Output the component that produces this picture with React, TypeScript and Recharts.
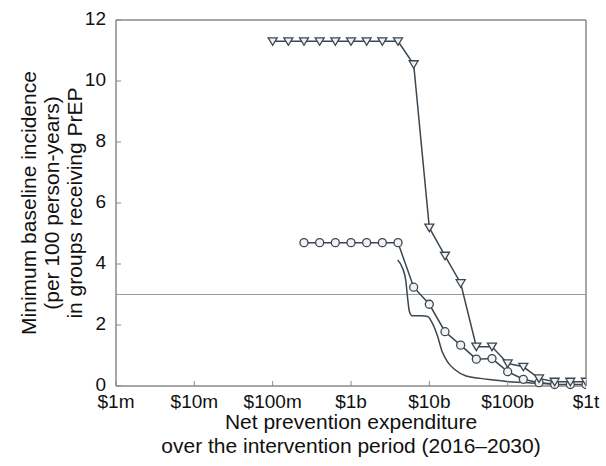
import { LineChart, Line, XAxis, YAxis, ReferenceLine, Label } from "recharts";

// x values are log10 of dollars (6 = $1m ... 12 = $1t)
const TICKS_X = [6, 7, 8, 9, 10, 11, 12];
const TICK_LABELS_X = ["$1m", "$10m", "$100m", "$1b", "$10b", "$100b", "$1t"];
const TICKS_Y = [0, 2, 4, 6, 8, 10, 12];

// triangle series
const triX = [8.0, 8.2, 8.4, 8.6, 8.8, 9.0, 9.2, 9.4, 9.6, 9.8, 10.0, 10.2, 10.4, 10.6, 10.8, 11.0, 11.2, 11.4, 11.6, 11.8, 12.0];
const triY = [11.3, 11.3, 11.3, 11.3, 11.3, 11.3, 11.3, 11.3, 11.3, 10.55, 5.19, 4.27, 3.37, 1.29, 1.29, 0.74, 0.63, 0.25, 0.14, 0.14, 0.14];

// circle series
const circX = [8.4, 8.6, 8.8, 9.0, 9.2, 9.4, 9.6, 9.8, 10.0, 10.2, 10.4, 10.6, 10.8, 11.0, 11.2, 11.4, 11.6, 11.8, 12.0];
const circY = [4.7, 4.7, 4.7, 4.7, 4.7, 4.7, 4.7, 3.24, 2.68, 1.78, 1.34, 0.88, 0.9, 0.47, 0.22, 0.11, 0.05, 0.05, 0.05];

// plain line
const lineX = [9.596, 9.66, 9.7, 9.72, 9.745, 9.78, 9.9, 9.98, 10.03, 10.1, 10.165, 10.23, 10.32, 10.47, 10.65, 10.82, 11.02, 11.3, 11.6];
const lineY = [4.13, 3.85, 3.45, 2.95, 2.45, 2.3, 2.3, 2.28, 2.1, 1.67, 1.12, 0.8, 0.55, 0.33, 0.25, 0.2, 0.14, 0.1, 0.08];

const triData = triX.map((x, i) => ({ x, y: triY[i] }));
const circData = circX.map((x, i) => ({ x, y: circY[i] }));
const lineData = lineX.map((x, i) => ({ x, y: lineY[i] }));

const FONT = "'Liberation Sans', Arial, sans-serif";
const AXIS = "#8a8a8a";
const INK = "#3b4650";
const MARK_FILL = "#f2f2f2";

const BottomTick = (props: any) => {
  const { x, y, payload } = props;
  const i = TICKS_X.indexOf(payload.value);
  return (
    <g>
      <line x1={x} y1={y} x2={x} y2={y - 5} stroke={AXIS} />
      <text x={x} y={y + 22} textAnchor="middle" fontSize={19} fill="#111" fontFamily={FONT}>
        {TICK_LABELS_X[i]}
      </text>
    </g>
  );
};

const TopTick = (props: any) => {
  const { x, y } = props;
  return <line x1={x} y1={y} x2={x} y2={y + 5} stroke={AXIS} />;
};

const LeftTick = (props: any) => {
  const { x, y, payload } = props;
  return (
    <g>
      <line x1={x} y1={y} x2={x + 5} y2={y} stroke={AXIS} />
      <text x={x - 10} y={y - 2} dy="0.36em" textAnchor="end" fontSize={19} fill="#111" fontFamily={FONT}>
        {payload.value}
      </text>
    </g>
  );
};

const RightTick = (props: any) => {
  const { x, y } = props;
  return <line x1={x} y1={y} x2={x - 5} y2={y} stroke={AXIS} />;
};

const TriangleDot = (props: any) => {
  const { cx, cy, index } = props;
  if (cx == null || cy == null) return <g key={index} />;
  const d = `M${cx - 4.5},${cy - 3.5} L${cx + 4.5},${cy - 3.5} L${cx},${cy + 4} Z`;
  return <path key={index} d={d} fill={MARK_FILL} stroke={INK} strokeWidth={1.3} />;
};

const XLabel = (props: any) => {
  const { viewBox } = props;
  const cx = viewBox.x + viewBox.width / 2;
  const y = viewBox.y;
  return (
    <g fontFamily={FONT} fontSize={21} fill="#111" textAnchor="middle">
      <text x={cx} y={y + 43}>Net prevention expenditure</text>
      <text x={cx} y={y + 67}>over the intervention period (2016–2030)</text>
    </g>
  );
};

const YLabel = (props: any) => {
  const { viewBox } = props;
  const cy = viewBox.y + viewBox.height / 2;
  const lines = ["Minimum baseline incidence", "(per 100 person-years)", "in groups receiving PrEP"];
  const xs = [28, 51, 74];
  return (
    <g fontFamily={FONT} fontSize={21} fill="#111" textAnchor="middle">
      {lines.map((t, i) => (
        <text key={i} x={xs[i]} y={cy} dy="0.36em" transform={`rotate(-90, ${xs[i]}, ${cy})`}>
          {t}
        </text>
      ))}
    </g>
  );
};

export default function App() {
  return (
    <div>
      <style>{"body{margin:0;background:#fff}"}</style>
      <LineChart width={606} height={466} margin={{ top: 0, right: 0, bottom: 0, left: 0 }}>
        <XAxis
          xAxisId="b"
          type="number"
          dataKey="x"
          domain={[6, 12]}
          ticks={TICKS_X}
          orientation="bottom"
          height={80}
          tickSize={0}
          tickMargin={0}
          tickLine={false}
          axisLine={{ stroke: AXIS, strokeWidth: 1.5 }}
          tick={<BottomTick />}
          allowDataOverflow
        >
          <Label content={<XLabel />} />
        </XAxis>
        <XAxis
          xAxisId="t"
          type="number"
          dataKey="x"
          domain={[6, 12]}
          ticks={TICKS_X}
          orientation="top"
          height={20}
          tickSize={0}
          tickMargin={0}
          tickLine={false}
          axisLine={{ stroke: AXIS, strokeWidth: 1.5 }}
          tick={<TopTick />}
        />
        <YAxis
          yAxisId="l"
          type="number"
          domain={[0, 12]}
          ticks={TICKS_Y}
          width={116}
          tickSize={0}
          tickMargin={0}
          tickLine={false}
          axisLine={{ stroke: AXIS, strokeWidth: 1.5 }}
          tick={<LeftTick />}
        >
          <Label content={<YLabel />} />
        </YAxis>
        <YAxis
          yAxisId="r"
          orientation="right"
          type="number"
          domain={[0, 12]}
          ticks={TICKS_Y}
          width={20}
          tickSize={0}
          tickMargin={0}
          tickLine={false}
          axisLine={{ stroke: AXIS, strokeWidth: 1.5 }}
          tick={<RightTick />}
        />
        <ReferenceLine xAxisId="b" yAxisId="l" y={3} stroke="#9a9a9a" strokeWidth={1.2} />
        <Line
          xAxisId="b"
          yAxisId="l"
          data={lineData}
          dataKey="y"
          type="monotone"
          stroke={INK}
          strokeWidth={1.5}
          dot={false}
          isAnimationActive={false}
        />
        <Line
          xAxisId="b"
          yAxisId="l"
          data={circData}
          dataKey="y"
          type="linear"
          stroke={INK}
          strokeWidth={1.5}
          dot={{ r: 4, fill: MARK_FILL, stroke: INK, strokeWidth: 1.3 }}
          isAnimationActive={false}
        />
        <Line
          xAxisId="b"
          yAxisId="l"
          data={triData}
          dataKey="y"
          type="linear"
          stroke={INK}
          strokeWidth={1.5}
          dot={<TriangleDot />}
          isAnimationActive={false}
        />
      </LineChart>
    </div>
  );
}
